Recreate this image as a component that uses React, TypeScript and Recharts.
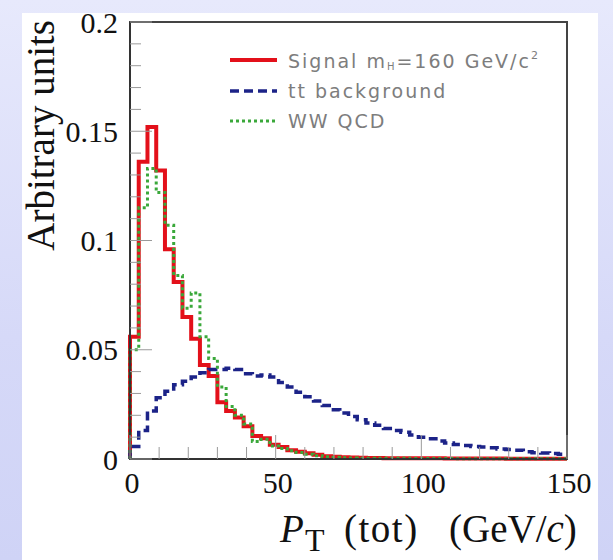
import React from 'react';
import { LineChart, Line, XAxis, YAxis, Legend, ReferenceArea } from 'recharts';

// histogram: 50 bins of 3 GeV/c from 0 to 150
const BIN_WIDTH = 3;
const X_MAX = 150;

const signal = [
  0.056, 0.136, 0.152, 0.132, 0.096, 0.081, 0.065, 0.055, 0.043, 0.038,
  0.026, 0.022, 0.019, 0.015, 0.0105, 0.0095, 0.0065, 0.0055, 0.004, 0.0033,
  0.0026, 0.0019, 0.0013, 0.001, 0.0008, 0.0007, 0.0006, 0.0005, 0.0005, 0.0004,
  0.0004, 0.0004, 0.0003, 0.0003, 0.0003, 0.0003, 0.0002, 0.0002, 0.0002, 0.0002,
  0.0002, 0.0002, 0.0002, 0.0001, 0.0001, 0.0001, 0.0001, 0.0001, 0.0001, 0.0001,
];

const ttbar = [
  0.0057, 0.013, 0.022, 0.028, 0.031, 0.034, 0.0356, 0.0375, 0.0395, 0.041,
  0.041, 0.0415, 0.041, 0.039, 0.038, 0.0385, 0.0375, 0.035, 0.033, 0.0305,
  0.0285, 0.0265, 0.0245, 0.0225, 0.021, 0.0195, 0.018, 0.0165, 0.0155, 0.014,
  0.013, 0.0122, 0.011, 0.01, 0.0093, 0.0082, 0.0073, 0.0066, 0.0062, 0.0057,
  0.0055, 0.0052, 0.0046, 0.0043, 0.004, 0.0033, 0.0029, 0.0028, 0.0025, 0.0022,
];

const wwQcd = [
  0.05, 0.115, 0.133, 0.122, 0.107, 0.084, 0.069, 0.076, 0.056, 0.046,
  0.033, 0.024, 0.02, 0.016, 0.008, 0.009, 0.006, 0.0048, 0.0038, 0.003,
  0.0022, 0.0015, 0.001, 0.0008, 0.0006, 0.0005, 0.0004, 0.0004, 0.0003, 0.0003,
  0.0003, 0.0003, 0.0002, 0.0002, 0.0002, 0.0002, 0.0002, 0.0001, 0.0001, 0.0001,
  0.0001, 0.0001, 0.0001, 0.0001, 0.0001, 0.0001, 0.0001, 0.0001, 0.0001, 0.0001,
];

const yMajor = [0, 0.05, 0.1, 0.15, 0.2];
const yMajorLabels = ['0', '0.05', '0.1', '0.15', '0.2'];
const xMajor = [0, 50, 100, 150];
const xMajorLabels = ['0', '50', '100', '150'];

const yTicks = Array.from({ length: 21 }, (_, i) => +(i * 0.01).toFixed(2));
const xTicks = Array.from({ length: 16 }, (_, i) => i * 10);

// step rows: start at zero, one row per bin edge, closing row at the end
const rows = [
  { x: 0, signal: 0, tt: 0, ww: 0 },
  ...signal.map((v, i) => ({ x: i * BIN_WIDTH, signal: v, tt: ttbar[i], ww: wwQcd[i] })),
  { x: X_MAX, signal: signal[signal.length - 1], tt: ttbar[ttbar.length - 1], ww: wwQcd[wwQcd.length - 1] },
];

const SERIF = '"Liberation Serif", "Times New Roman", serif';
const SANS = '"DejaVu Sans", "Liberation Sans", sans-serif';
const TICK_COLOR = '#9a9a9a';

const STYLES: Record<string, { color: string; dash?: string; width: number }> = {
  signal: { color: '#e3101a', width: 4 },
  tt: { color: '#1c2388', dash: '9 5', width: 3.5 },
  ww: { color: '#3aa83a', dash: '3 3', width: 3 },
};

const LEGEND_ORDER = ['signal', 'tt', 'ww'];
const LEGEND_TEXT: Record<string, React.ReactNode> = {
  signal: (
    <>
      Signal m<sub style={{ fontSize: 10, verticalAlign: -2 }}>H</sub>=160 GeV/c
      <sup style={{ fontSize: 11, verticalAlign: 9 }}>2</sup>
    </>
  ),
  tt: 'tt background',
  ww: 'WW QCD',
};

const YTick = ({ x, y, payload }: any) => {
  const idx = yMajor.findIndex((v) => Math.abs(v - payload.value) < 1e-9);
  const major = idx >= 0;
  return (
    <g>
      <line x1={x} x2={x + (major ? 22 : 11)} y1={y} y2={y} stroke={TICK_COLOR} strokeWidth={1} />
      {major && (
        <text x={x - 12} y={y} dy="0.35em" textAnchor="end" fontFamily={SERIF} fontSize={30} fill="#111">
          {yMajorLabels[idx]}
        </text>
      )}
    </g>
  );
};

const XTick = ({ x, y, payload }: any) => {
  const idx = xMajor.indexOf(payload.value);
  const major = idx >= 0;
  return (
    <g>
      <line x1={x} x2={x} y1={y} y2={y - (major ? 24 : 12)} stroke={TICK_COLOR} strokeWidth={1} />
      {major && (
        <text x={x + 2} y={y + 34} textAnchor="middle" fontFamily={SERIF} fontSize={30} fill="#111">
          {xMajorLabels[idx]}
        </text>
      )}
    </g>
  );
};

const XTitle = ({ viewBox }: any) => {
  const right = viewBox.x + viewBox.width;
  const base = viewBox.y + 83;
  return (
    <text y={base} fontFamily={SERIF} fontSize={39} fill="#111">
      <tspan x={right - 287} fontStyle="italic">P</tspan>
      <tspan x={right - 262} fontSize={32} dy={9}>T</tspan>
      <tspan x={right - 223} dy={-9} letterSpacing={1.5}>(tot)</tspan>
      <tspan x={right - 118}>(GeV/</tspan>
      <tspan fontStyle="italic">c</tspan>
      <tspan>)</tspan>
    </text>
  );
};

const YTitle = ({ viewBox }: any) => {
  const x = viewBox.x + viewBox.width - 76;
  const y = viewBox.y - 2;
  return (
    <text x={x} y={y} transform={`rotate(-90 ${x} ${y})`} textAnchor="end" fontFamily={SERIF} fontSize={39} fill="#111">
      Arbitrary units
    </text>
  );
};

const renderLegend = () => (
  <div style={{ fontFamily: SANS, fontSize: 19, color: '#7d7d7d', letterSpacing: 2 }}>
    {LEGEND_ORDER.map((key) => {
      const s = STYLES[key];
      return (
        <div key={key} style={{ display: 'flex', alignItems: 'center', height: 30.5 }}>
          <svg width={58} height={30} style={{ flex: 'none' }}>
            <line x1={0} x2={47} y1={15} y2={15} stroke={s.color} strokeWidth={s.width} strokeDasharray={s.dash} />
          </svg>
          <span style={{ whiteSpace: 'nowrap' }}>{LEGEND_TEXT[key]}</span>
        </div>
      );
    })}
  </div>
);

export default function App() {
  return (
    <div
      style={{
        position: 'absolute', left: 0, top: 0, width: 613, height: 560, overflow: 'hidden',
        background: 'linear-gradient(to bottom, #e7e9fc 0%, #d6d9f8 60%, #cfd3f6 100%)',
      }}
    >
      <div style={{ position: 'absolute', left: 22, top: 13, width: 576, height: 547, background: '#fff' }} />
      <div style={{ position: 'absolute', left: 0, top: 0 }}>
        <LineChart width={613} height={560} data={rows} margin={{ top: 22, right: 46, bottom: 71, left: 70 }}>
          <XAxis
            dataKey="x"
            type="number"
            domain={[0, X_MAX]}
            ticks={xTicks}
            interval={0}
            height={30}
            tickSize={0}
            tickMargin={0}
            tick={<XTick />}
            axisLine={{ stroke: '#333', strokeWidth: 2 }}
            label={<XTitle />}
          />
          <YAxis
            type="number"
            domain={[0, 0.2]}
            ticks={yTicks}
            interval={0}
            width={60}
            tickSize={0}
            tickMargin={0}
            tick={<YTick />}
            axisLine={{ stroke: '#333', strokeWidth: 2 }}
            label={<YTitle />}
          />
          <ReferenceArea x1={0} x2={X_MAX} y1={0} y2={0.2} fill="none" stroke="#444" strokeWidth={2} ifOverflow="visible" />
          <Line
            dataKey="signal"
            name="Signal"
            type="stepAfter"
            stroke={STYLES.signal.color}
            strokeWidth={STYLES.signal.width}
            dot={false}
            isAnimationActive={false}
          />
          <Line
            dataKey="tt"
            name="tt background"
            type="stepAfter"
            stroke={STYLES.tt.color}
            strokeWidth={STYLES.tt.width}
            strokeDasharray={STYLES.tt.dash}
            dot={false}
            isAnimationActive={false}
          />
          <Line
            dataKey="ww"
            name="WW QCD"
            type="stepAfter"
            stroke={STYLES.ww.color}
            strokeWidth={STYLES.ww.width}
            strokeDasharray={STYLES.ww.dash}
            dot={false}
            isAnimationActive={false}
          />
          <Legend
            layout="vertical"
            align="center"
            verticalAlign="middle"
            content={renderLegend}
            wrapperStyle={{ position: 'absolute', left: 230, top: 45, width: 370 }}
          />
        </LineChart>
      </div>
    </div>
  );
}
